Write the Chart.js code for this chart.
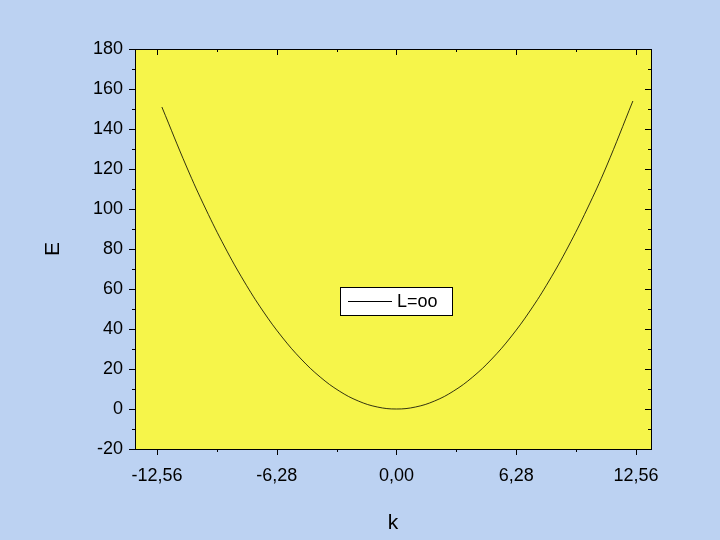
<!DOCTYPE html>
<html><head><meta charset="utf-8">
<script src="https://cdn.jsdelivr.net/npm/chart.js@4/dist/chart.umd.min.js"></script>
<style>html,body{margin:0;padding:0;background:#bcd2f2;}canvas{display:block}</style>
</head><body>
<canvas id="c" width="720" height="540"></canvas>
<script>
const kValues = [-12.3,-11,-10,-9,-8,-7,-6,-5,-4,-3,-2,-1,0,1,2,3,4,5,6,7,8,9,10,11,12.4];
const eValues = [151,121,100,81,64,49,36,25,16,9,4,1,0,1,4,9,16,25,36,49,64,81,100,121,154];
const xTicks = [-12.56,-6.28,0,6.28,12.56];
const yTicks = [-20,0,20,40,60,80,100,120,140,160,180];
const legendLabel = 'L=oo';

const bgPlugin = {
  id:'bg',
  beforeDraw(ch){
    const c=ch.ctx, a=ch.chartArea;
    c.save();
    c.fillStyle='#bcd2f2'; c.fillRect(0,0,ch.width,ch.height);
    c.fillStyle='#f6f54a'; c.fillRect(a.left,a.top,a.right-a.left,a.bottom-a.top);
    c.restore();
  },
  afterDraw(ch){
    const c=ch.ctx, a=ch.chartArea, xs=ch.scales.x, ys=ch.scales.y;
    c.save();
    c.strokeStyle='#000'; c.lineWidth=1;
    c.strokeRect(a.left+0.5,a.top+0.5,a.right-a.left,a.bottom-a.top);
    c.beginPath();
    for(let v=-20;v<=180;v+=10){const y=Math.round(ys.getPixelForValue(v))+0.5;const L=(v%20===0)?6:3;
      c.moveTo(a.left,y);c.lineTo(a.left-L,y);c.moveTo(a.right,y);c.lineTo(a.right-L,y);}
    for(let i=-4;i<=4;i++){const v=i*3.14;const x=Math.round(xs.getPixelForValue(v))+0.5;const L=(i%2===0)?6:3;
      c.moveTo(x,a.bottom);c.lineTo(x,a.bottom+L);c.moveTo(x,a.top);c.lineTo(x,a.top+L);}
    c.stroke();
    const lx=340,ly=287,lw=112,lh=28;
    c.fillStyle='#fff';c.fillRect(lx,ly,lw,lh);
    c.strokeRect(lx+0.5,ly+0.5,lw,lh);
    c.beginPath();c.moveTo(348,ly+14.5);c.lineTo(392,ly+14.5);c.stroke();
    c.fillStyle='#000';c.font='18px "Liberation Sans"';c.textBaseline='middle';
    c.fillText(legendLabel,397,ly+15);
    c.restore();
  }
};

new Chart(document.getElementById('c'),{
  type:'line',
  data:{datasets:[{data:kValues.map((k,i)=>({x:k,y:eValues[i]})),borderColor:'#000',borderWidth:0.8,pointRadius:0,tension:0.4,fill:false}]},
  options:{
    responsive:false,animation:false,
    layout:{padding:{top:49,right:69,left:37,bottom:0}},
    plugins:{legend:{display:false},tooltip:{enabled:false}},
    scales:{
      x:{type:'linear',min:-13.71,max:13.35,
        afterBuildTicks(s){s.ticks=xTicks.map(v=>({value:v}));},
        afterFit(s){s.height=91;},
        grid:{drawOnChartArea:false,drawTicks:false,color:'#000'},border:{display:false},
        ticks:{padding:16,color:'#000',font:{family:'Liberation Sans',size:18},callback:v=>v.toFixed(2).replace('.',',')},
        title:{display:true,text:'k',color:'#000',font:{family:'Liberation Sans',size:21},padding:{top:14}}},
      y:{min:-20,max:180,
        afterBuildTicks(s){s.ticks=yTicks.map(v=>({value:v}));},
        afterFit(s){s.width=98;},
        grid:{drawOnChartArea:false,drawTicks:false,color:'#000'},border:{display:false},
        ticks:{padding:12,color:'#000',font:{family:'Liberation Sans',size:18}},
        title:{display:true,text:'E',color:'#000',font:{family:'Liberation Sans',size:21},padding:{bottom:0}}}
    }
  },
  plugins:[bgPlugin]
});
</script>
</body></html>
